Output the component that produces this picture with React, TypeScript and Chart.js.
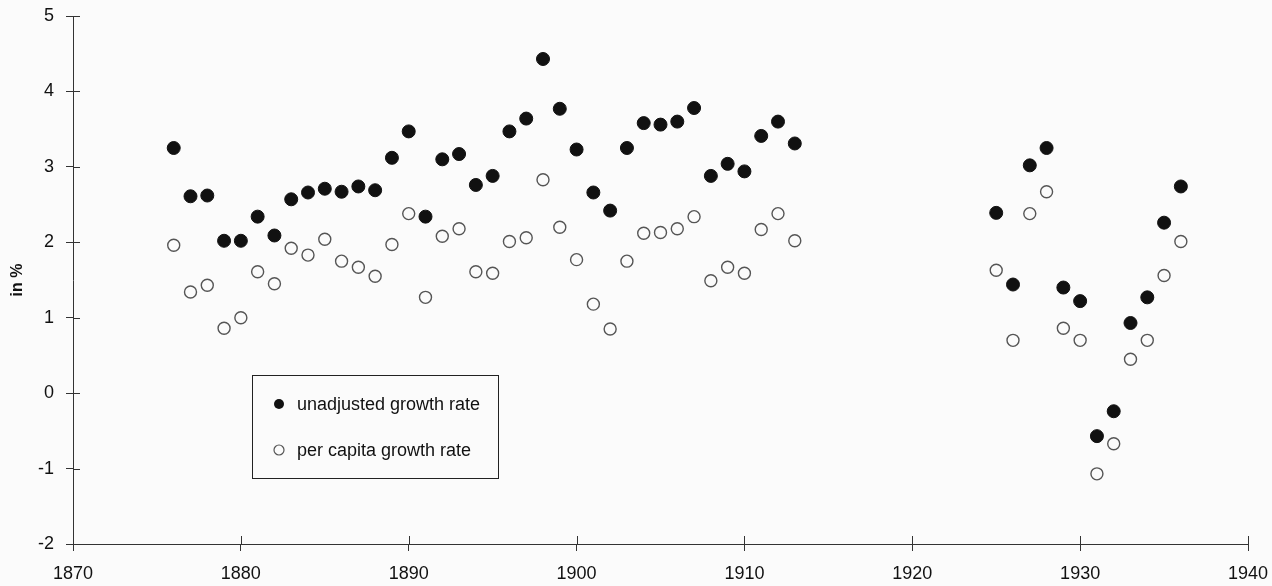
import React, { useEffect, useRef } from "react";
import { Chart, registerables } from "chart.js";

Chart.register(...registerables);

const years = [
  1876, 1877, 1878, 1879, 1880, 1881, 1882, 1883, 1884, 1885, 1886, 1887, 1888, 1889,
  1890, 1891, 1892, 1893, 1894, 1895, 1896, 1897, 1898, 1899, 1900, 1901, 1902, 1903,
  1904, 1905, 1906, 1907, 1908, 1909, 1910, 1911, 1912, 1913,
  1925, 1926, 1927, 1928, 1929, 1930, 1931, 1932, 1933, 1934, 1935, 1936,
];

const unadjusted = [
  3.25, 2.61, 2.62, 2.02, 2.02, 2.34, 2.09, 2.57, 2.66, 2.71, 2.67, 2.74, 2.69, 3.12,
  3.47, 2.34, 3.10, 3.17, 2.76, 2.88, 3.47, 3.64, 4.43, 3.77, 3.23, 2.66, 2.42, 3.25,
  3.58, 3.56, 3.60, 3.78, 2.88, 3.04, 2.94, 3.41, 3.60, 3.31,
  2.39, 1.44, 3.02, 3.25, 1.40, 1.22, -0.57, -0.24, 0.93, 1.27, 2.26, 2.74,
];

const perCapita = [
  1.96, 1.34, 1.43, 0.86, 1.00, 1.61, 1.45, 1.92, 1.83, 2.04, 1.75, 1.67, 1.55, 1.97,
  2.38, 1.27, 2.08, 2.18, 1.61, 1.59, 2.01, 2.06, 2.83, 2.20, 1.77, 1.18, 0.85, 1.75,
  2.12, 2.13, 2.18, 2.34, 1.49, 1.67, 1.59, 2.17, 2.38, 2.02,
  1.63, 0.70, 2.38, 2.67, 0.86, 0.70, -1.07, -0.67, 0.45, 0.70, 1.56, 2.01,
];

const xTicks = [1870, 1880, 1890, 1900, 1910, 1920, 1930, 1940];
const yTicks = [-2, -1, 0, 1, 2, 3, 4, 5];

const seriesLabels = ["unadjusted growth rate", "per capita growth rate"];
const yTitle = "in %";

const FONT = "'Liberation Sans', Arial, Helvetica, sans-serif";
const INK = "#111";
const AXIS = "#333";

const crossTicksAndLegend = {
  id: "crossTicksAndLegend",
  afterDraw(chart: any) {
    const { ctx, chartArea, scales } = chart;
    const x = scales.x;
    const y = scales.y;
    ctx.save();
    ctx.strokeStyle = AXIS;
    ctx.lineWidth = 1;
    ctx.beginPath();
    x.ticks.forEach((t: any) => {
      const px = Math.round(x.getPixelForValue(t.value)) + 0.5;
      ctx.moveTo(px, chartArea.bottom);
      ctx.lineTo(px, chartArea.bottom - 8);
    });
    y.ticks.forEach((t: any) => {
      const py = Math.round(y.getPixelForValue(t.value)) + 0.5;
      ctx.moveTo(chartArea.left, py);
      ctx.lineTo(chartArea.left + 7, py);
    });
    ctx.stroke();

    // legend box
    const bx = chartArea.left + 179;
    const by = chartArea.top + 359;
    const bw = 246;
    const bh = 103;
    ctx.strokeStyle = "#222";
    ctx.lineWidth = 1;
    ctx.strokeRect(bx + 0.5, by + 0.5, bw, bh);

    const ds = chart.data.datasets;
    const rows = [by + 29, by + 75];
    ds.forEach((d: any, i: number) => {
      const cx = bx + 27;
      const cy = rows[i];
      ctx.beginPath();
      ctx.arc(cx, cy, 5, 0, Math.PI * 2);
      if (i === 0) {
        ctx.fillStyle = INK;
        ctx.fill();
      } else {
        ctx.strokeStyle = "#555";
        ctx.lineWidth = 1.2;
        ctx.stroke();
      }
      ctx.fillStyle = INK;
      ctx.font = `18px ${FONT}`;
      ctx.textAlign = "left";
      ctx.textBaseline = "middle";
      ctx.fillText(d.label, bx + 45, cy + 1);
    });
    ctx.restore();
  },
};

export default function App() {
  const canvasRef = useRef<HTMLCanvasElement | null>(null);

  useEffect(() => {
    const canvas = canvasRef.current;
    if (!canvas) return;
    const chart = new Chart(canvas, {
      type: "scatter",
      data: {
        datasets: [
          {
            label: seriesLabels[0],
            data: years.map((yr, i) => ({ x: yr, y: unadjusted[i] })),
            pointRadius: 6.5,
            pointBackgroundColor: INK,
            pointBorderColor: INK,
            pointBorderWidth: 1,
            showLine: false,
          },
          {
            label: seriesLabels[1],
            data: years.map((yr, i) => ({ x: yr, y: perCapita[i] })),
            pointRadius: 6,
            pointBackgroundColor: "rgba(255,255,255,0)",
            pointBorderColor: "#555",
            pointBorderWidth: 1.4,
            showLine: false,
          },
        ],
      },
      options: {
        animation: false,
        responsive: false,
        maintainAspectRatio: false,
        layout: { padding: { top: 16, right: 24, left: 0, bottom: 0 } },
        plugins: {
          legend: { display: false },
          tooltip: { enabled: false },
        },
        scales: {
          x: {
            type: "linear",
            min: xTicks[0],
            max: xTicks[xTicks.length - 1],
            afterBuildTicks: (s: any) => {
              s.ticks = xTicks.map((v) => ({ value: v }));
            },
            ticks: {
              color: INK,
              font: { size: 18, family: FONT },
              padding: 12,
              maxRotation: 0,
              callback: (v: any) => String(v),
            },
            grid: {
              drawOnChartArea: false,
              drawTicks: true,
              tickLength: 7,
              color: AXIS,
            },
            border: { display: true, color: AXIS, width: 1 },
            afterFit: (s: any) => {
              s.height = 42;
              s.paddingLeft = 0;
              s.paddingRight = 0;
            },
          },
          y: {
            type: "linear",
            min: yTicks[0],
            max: yTicks[yTicks.length - 1],
            afterBuildTicks: (s: any) => {
              s.ticks = yTicks.map((v) => ({ value: v }));
            },
            ticks: {
              color: INK,
              font: { size: 18, family: FONT },
              padding: 12,
              callback: (v: any) => String(v),
            },
            grid: {
              drawOnChartArea: false,
              drawTicks: true,
              tickLength: 7,
              color: AXIS,
            },
            border: { display: true, color: AXIS, width: 1 },
            title: {
              display: true,
              text: yTitle,
              color: INK,
              font: { size: 16, weight: "bold", family: FONT },
              padding: { top: 8, bottom: 0 },
            },
            afterFit: (s: any) => {
              s.width = 73;
              s.paddingTop = 0;
              s.paddingBottom = 0;
            },
          },
        },
      },
      plugins: [crossTicksAndLegend],
    } as any);
    return () => chart.destroy();
  }, []);

  return (
    <div
      style={{
        position: "fixed",
        left: 0,
        top: 0,
        width: 1272,
        height: 586,
        background: "#fbfbfb",
      }}
    >
      <canvas ref={canvasRef} width={1272} height={586} />
    </div>
  );
}
